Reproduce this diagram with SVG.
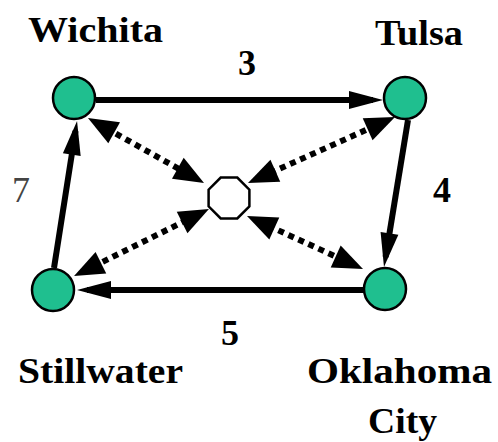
<svg xmlns="http://www.w3.org/2000/svg" width="498" height="442" viewBox="0 0 498 442">
<style>
text{font-weight:bold;font-size:36px;fill:#000}
.light{font-weight:normal;fill:#444}
.city{fill:#1fbf8f;stroke:#000;stroke-width:2.5}
.hub{fill:#fff;stroke:#000;stroke-width:2.5}
.solid{stroke:#000;stroke-width:6;fill:none;marker-end:url(#ah)}
.dot{stroke:#000;stroke-width:6;fill:none;stroke-dasharray:6 5;marker-start:url(#dh);marker-end:url(#dh)}
</style>
<defs>
<marker id="ah" markerUnits="userSpaceOnUse" markerWidth="34" markerHeight="18" refX="24" refY="9" orient="auto" overflow="visible">
<path d="M0,0 L34,9 L0,18 z" fill="#000"/>
</marker>
<marker id="dh" markerUnits="userSpaceOnUse" markerWidth="30" markerHeight="24" refX="20" refY="12" orient="auto-start-reverse" overflow="visible">
<path d="M0,0 L30,12 L0,24 z" fill="#000"/>
</marker>
</defs>
<g id="connectors">
<line class="solid" x1="96" y1="100" x2="373" y2="100"/>
<line class="solid" x1="408" y1="120" x2="385.6" y2="257.1"/>
<line class="solid" x1="364" y1="290" x2="87" y2="290"/>
<line class="solid" x1="54" y1="268" x2="75.5" y2="130.9"/>
<line class="dot" x1="96.7" y1="122.9" x2="195.3" y2="178.1"/>
<line class="dot" x1="385.9" y1="121.1" x2="257.1" y2="178.9"/>
<line class="dot" x1="83" y1="271.6" x2="200" y2="213.5"/>
<line class="dot" x1="353.9" y1="264.8" x2="256.1" y2="220.2"/>
</g>
<g id="wichita" font-family="Liberation Serif, serif">
<circle class="city" cx="74" cy="98" r="21"/>
<text x="28" y="42" textLength="135" lengthAdjust="spacingAndGlyphs">Wichita</text>
</g>
<g id="tulsa" font-family="Liberation Serif, serif">
<circle class="city" cx="405" cy="98" r="21"/>
<text x="375" y="45" textLength="88" lengthAdjust="spacingAndGlyphs">Tulsa</text>
</g>
<g id="stillwater" font-family="Liberation Serif, serif">
<circle class="city" cx="53" cy="290" r="21"/>
<text x="18" y="383" textLength="165" lengthAdjust="spacingAndGlyphs">Stillwater</text>
</g>
<g id="oklahoma-city" font-family="Liberation Serif, serif">
<circle class="city" cx="385" cy="289" r="21"/>
<text x="307" y="383" textLength="185" lengthAdjust="spacingAndGlyphs">Oklahoma</text>
<text x="368" y="433" textLength="69" lengthAdjust="spacingAndGlyphs">City</text>
</g>
<g id="hub">
<polygon class="hub" points="249.4,206.3 237.3,218.4 220.7,218.4 208.6,206.3 208.6,189.7 220.7,177.6 237.3,177.6 249.4,189.7"/>
</g>
<g id="edge-labels" font-family="Liberation Serif, serif">
<text x="247" y="75" text-anchor="middle">3</text>
<text class="light" x="21" y="202" text-anchor="middle">7</text>
<text x="442" y="202" text-anchor="middle">4</text>
<text x="230" y="345" text-anchor="middle">5</text>
</g>
</svg>
